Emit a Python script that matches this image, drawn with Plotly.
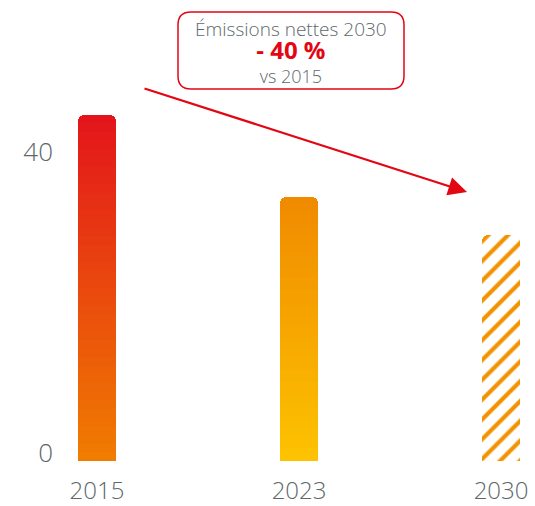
import plotly.graph_objects as go

years = ["2015", "2023", "2030"]
values = [46, 35, 30]
value_labels = ["46", "35", ""]
top_colors = ["#E3141B", "#F08A00", None]
bottom_colors = ["#F07D00", "#FDC300", None]
y_ticks = [0, 40]

box_line1 = "Émissions nettes 2030"
box_line2 = "- 40 %"
box_line3 = "vs 2015"

GRAY = "#5d686b"
RED = "#E30613"
ORANGE = "#F39200"
FONT = "Open Sans"

def hex2rgb(h):
    h = h.lstrip("#")
    return tuple(int(h[i:i + 2], 16) for i in (0, 2, 4))

def mix(c1, c2, t):
    a, b = hex2rgb(c1), hex2rgb(c2)
    return "rgb(%d,%d,%d)" % tuple(round(a[k] + (b[k] - a[k]) * t) for k in range(3))

N = 40
fig = go.Figure()
for i in range(N):
    t = (i + 0.5) / N
    ys, cols = [], []
    for j, v in enumerate(values):
        if top_colors[j] is None:
            ys.append(None)
            cols.append("white")
        else:
            ys.append(v / N)
            cols.append(mix(bottom_colors[j], top_colors[j], t))
    fig.add_trace(go.Bar(x=years, y=ys, marker=dict(color=cols, line=dict(width=0)),
                         width=0.19, hoverinfo="skip", showlegend=False))

fig.add_trace(go.Bar(
    x=[years[2]], y=[values[2]], width=0.19, showlegend=False,
    marker=dict(color="white", line=dict(width=0),
                pattern=dict(shape="/", fgcolor=ORANGE, bgcolor="white", fgopacity=1,
                             size=14, solidity=0.3)),
))

for j, lab in enumerate(value_labels):
    if lab:
        fig.add_annotation(x=years[j], y=values[j], text="<b>%s</b>" % lab, showarrow=False,
                           yanchor="bottom", yshift=4,
                           font=dict(family=FONT, size=19, color=top_colors[j]))

# paper coordinate helpers (plot area: left 60, right 535, top 10, bottom 461)
L, R, T, B = 60, 535, 10, 461
def px(x):
    return (x - L) / (R - L)
def py(y):
    return (B - y) / (B - T)

x0, x1, y0, y1, r = 178, 404, 12, 89, 13
path = ("M %f,%f L %f,%f Q %f,%f %f,%f L %f,%f Q %f,%f %f,%f L %f,%f Q %f,%f %f,%f L %f,%f Q %f,%f %f,%f Z" % (
    px(x0 + r), py(y0), px(x1 - r), py(y0), px(x1), py(y0), px(x1), py(y0 + r),
    px(x1), py(y1 - r), px(x1), py(y1), px(x1 - r), py(y1),
    px(x0 + r), py(y1), px(x0), py(y1), px(x0), py(y1 - r),
    px(x0), py(y0 + r), px(x0), py(y0), px(x0 + r), py(y0)))
fig.add_shape(type="path", path=path, xref="paper", yref="paper",
              line=dict(color=RED, width=1.5), fillcolor="white", layer="above")

cx = px((x0 + x1) / 2)
box_text = ("<span style='font-size:19px'>%s</span><br>"
            "<span style='font-size:24px;color:%s'><b>%s</b></span><br>%s") % (
    box_line1, RED, box_line2, box_line3)
fig.add_annotation(x=cx, y=py(51.5), xref="paper", yref="paper", text=box_text, showarrow=False,
                   xanchor="center", yanchor="middle", align="center",
                   font=dict(family=FONT, size=18, color=GRAY, weight=300))

# arrow
fig.add_annotation(x=px(467), y=py(192), xref="paper", yref="paper", ax=143 - 467, ay=88 - 192,
                   text="", showarrow=True, arrowhead=2, arrowsize=1.7, arrowwidth=2.2,
                   arrowcolor=RED, standoff=0)

fig.update_layout(
    width=535, height=506, barmode="stack", bargap=0,
    barcornerradius=6,
    margin=dict(l=L, r=535 - R, t=T, b=506 - B, autoexpand=False),
    plot_bgcolor="white", paper_bgcolor="white",
    font=dict(family=FONT, color=GRAY),
    xaxis=dict(type="category", range=[-0.183, 2.168], showgrid=False, showline=False, zeroline=False,
               ticks="", tickfont=dict(size=24, color=GRAY, weight=300), ticklabelstandoff=13,
               automargin=False),
    yaxis=dict(range=[0, 59.9], tickvals=y_ticks, showgrid=False, showline=False, zeroline=False,
               ticks="", tickfont=dict(size=26, color=GRAY, weight=300), ticklabelshift=-8,
               ticklabelstandoff=6, automargin=False),
)

fig.write_html("out.html", config={"displayModeBar": False},
               post_script="document.body.style.margin='0';")
